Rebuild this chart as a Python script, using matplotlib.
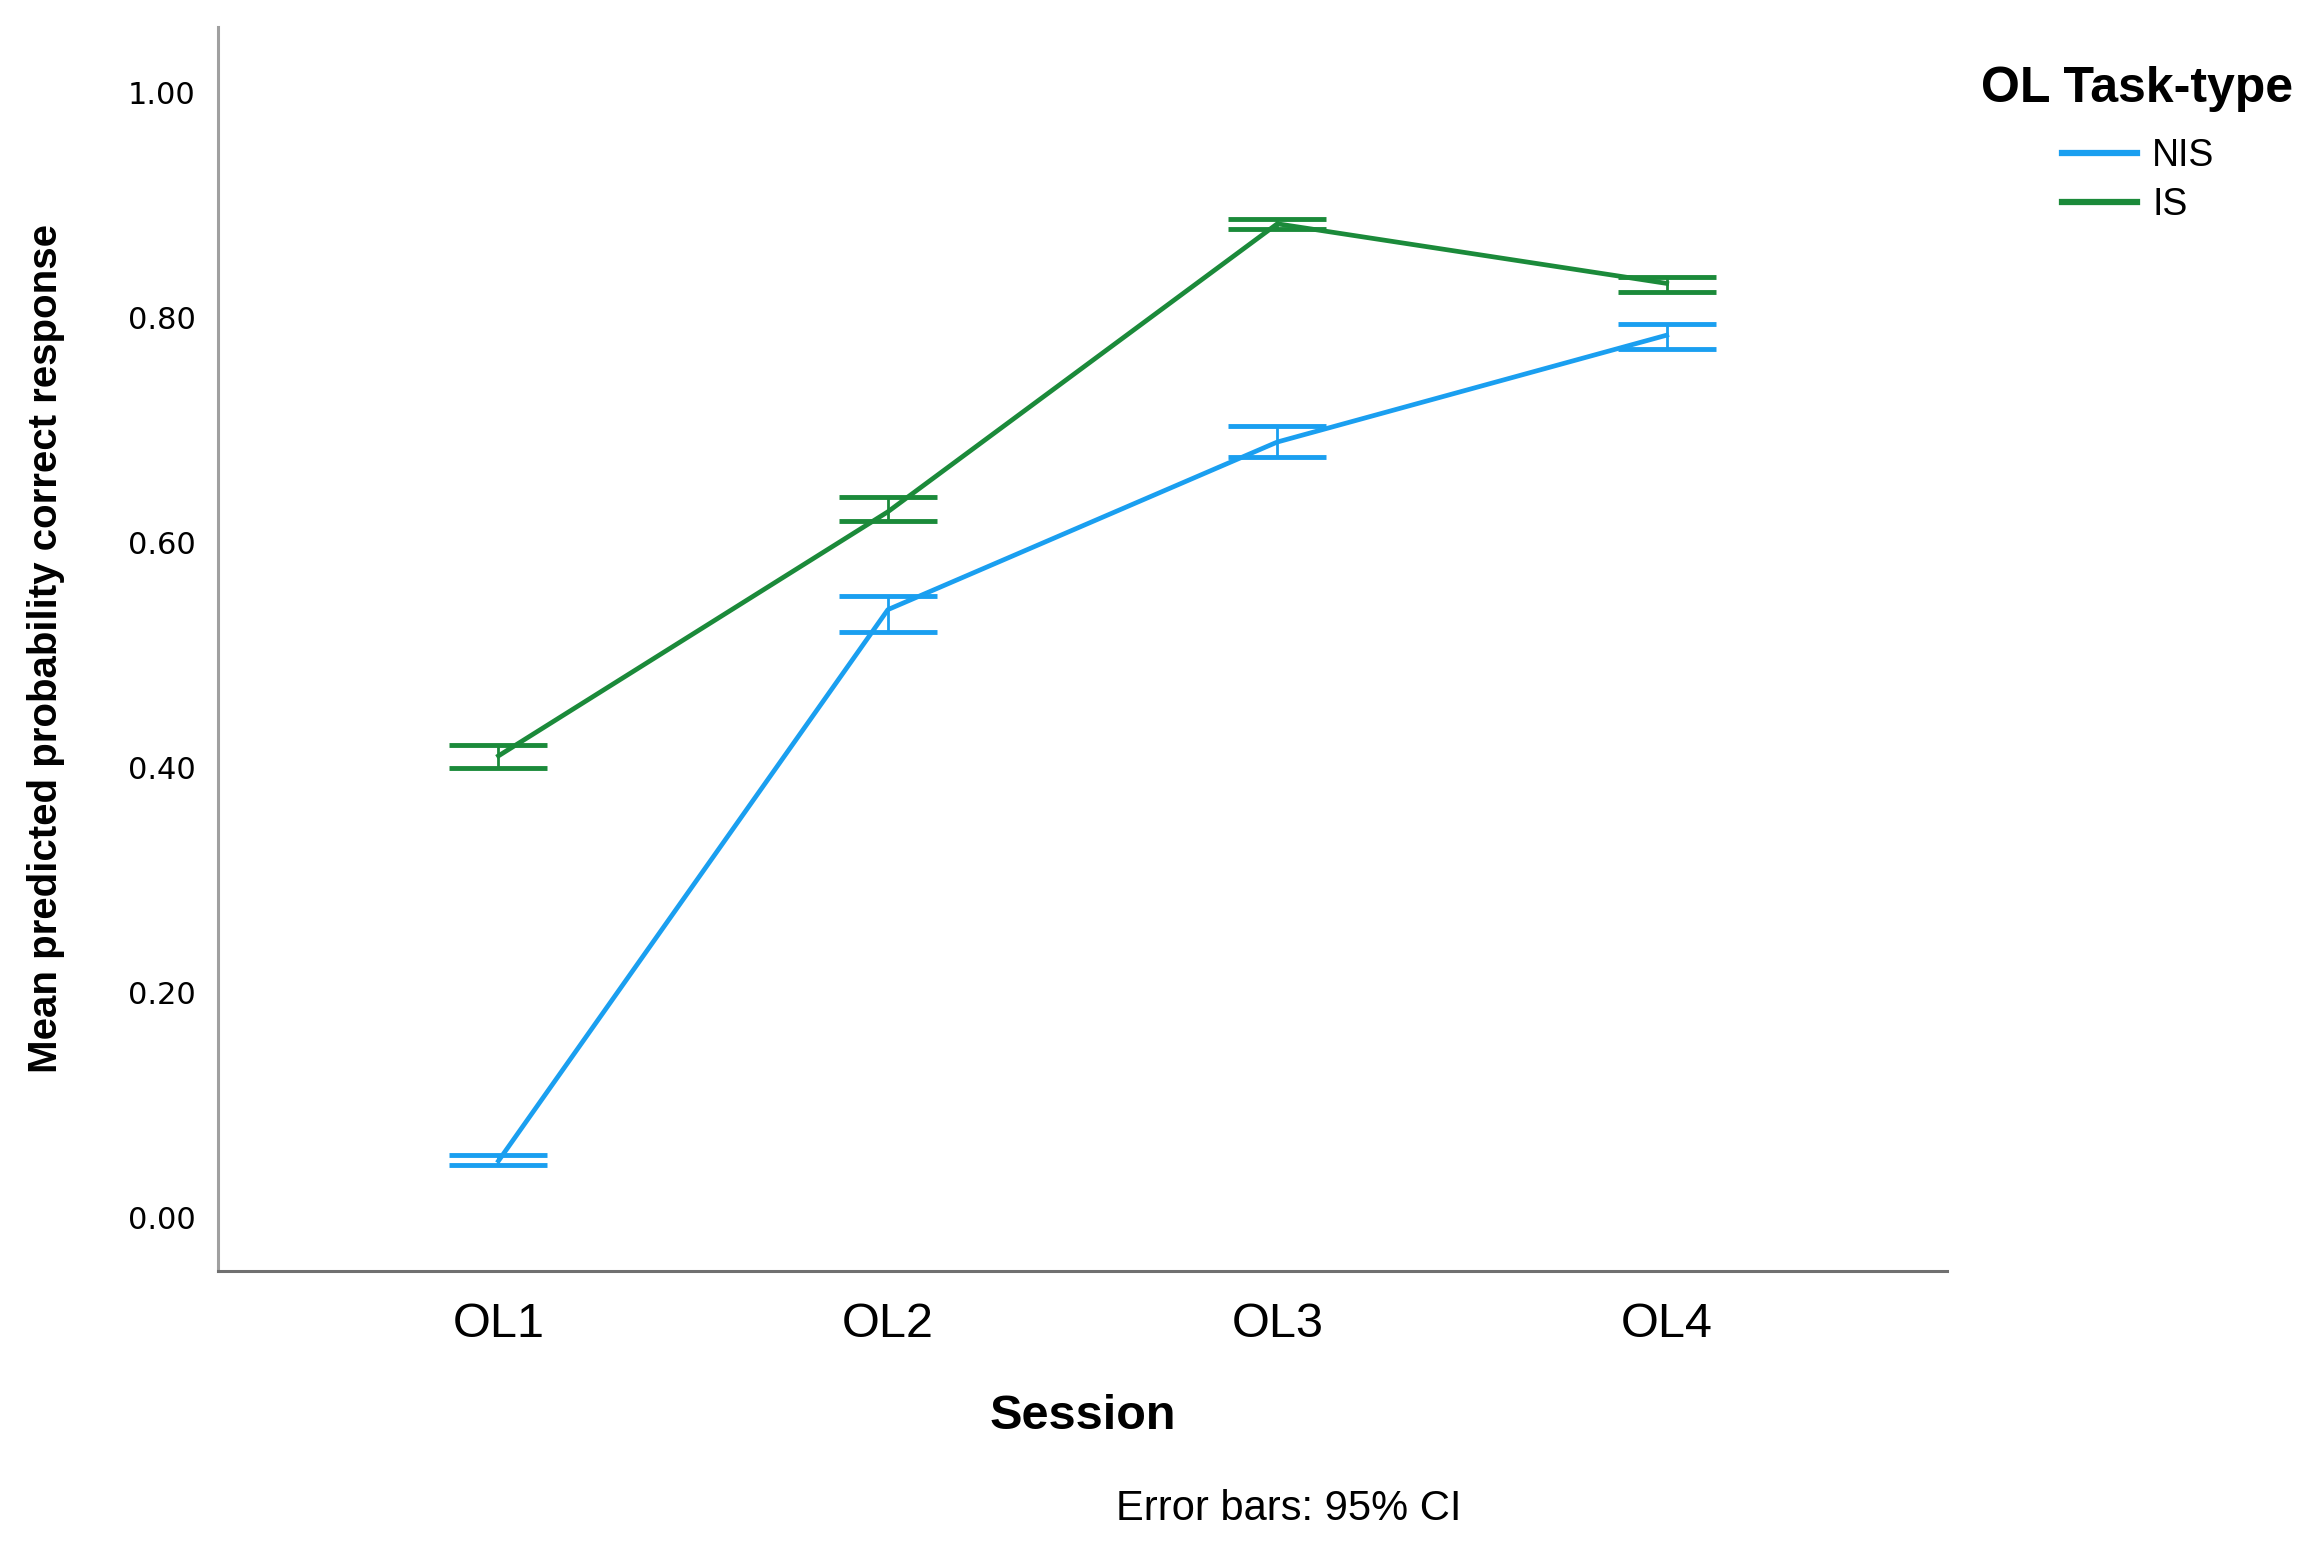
import numpy as np
import matplotlib
matplotlib.use("Agg")
import matplotlib.pyplot as plt

# data
sessions = ["OL1", "OL2", "OL3", "OL4"]
nis_mean = [0.050, 0.540, 0.689, 0.784]
nis_lo = [0.046, 0.520, 0.676, 0.772]
nis_hi = [0.055, 0.552, 0.703, 0.794]
is_mean = [0.410, 0.627, 0.883, 0.830]
is_lo = [0.399, 0.619, 0.878, 0.822]
is_hi = [0.420, 0.640, 0.887, 0.836]

blue = "#1a9ff0"
green = "#1b8a3a"

plt.rcParams['font.family'] = ['Liberation Sans', 'DejaVu Sans']

fig = plt.figure(figsize=(23.13, 15.48), dpi=100)
ax = fig.add_axes([0.0943, 0.1789, 0.7475, 0.8037])

x = np.arange(len(sessions))

for mean, lo, hi, col, lab in [(nis_mean, nis_lo, nis_hi, blue, "NIS"),
                               (is_mean, is_lo, is_hi, green, "IS")]:
    mean = np.array(mean)
    err = [mean - np.array(lo), np.array(hi) - mean]
    ax.errorbar(x, mean, yerr=err, fmt='none', ecolor=col, elinewidth=2,
                capsize=35, capthick=3.5)
    ax.plot(x, mean, color=col, lw=3.4, label=lab)

ax.set_xlim(-0.72, 3.72)
ax.set_ylim(-0.048, 1.058)
ax.set_xticks(x)
ax.set_xticklabels(sessions, fontsize=35)
ax.set_yticks([0, 0.2, 0.4, 0.6, 0.8, 1.0])
ax.set_yticklabels([f"{v:.2f}" for v in [0, 0.2, 0.4, 0.6, 0.8, 1.0]],
                   fontsize=22, family='DejaVu Sans')
ax.tick_params(axis='x', length=0, pad=22)
ax.tick_params(axis='y', length=0, pad=16)

for s in ['top', 'right']:
    ax.spines[s].set_visible(False)
ax.spines['left'].set_color('#a0a0a0')
ax.spines['left'].set_linewidth(2.2)
ax.spines['bottom'].set_color('#707070')
ax.spines['bottom'].set_linewidth(2.2)

ax.set_ylabel("Mean predicted probability correct response", fontsize=29,
              fontweight='bold', va='center')
ax.yaxis.set_label_coords(-0.0995, 0.5)
ax.set_xlabel("Session", fontsize=35, fontweight='bold', va='center')
ax.xaxis.set_label_coords(0.5, -0.1166)

# legend: title as separate text so the gap can be set
fig.text(2137 / 2313, 1 - 89 / 1548, "OL Task-type", fontsize=36,
         fontweight='bold', ha='center', va='center')
leg = fig.legend(loc='upper left', bbox_to_anchor=(2062 / 2313, 1 - 138 / 1548),
                 frameon=False, fontsize=27, handlelength=2.0, handletextpad=0.4,
                 labelspacing=0.35, borderpad=0, borderaxespad=0)
for h in leg.get_lines():
    h.set_linewidth(4.5)

fig.text(1289 / 2313, 1 - 1509 / 1548, "Error bars: 95% CI", fontsize=30,
         ha='center', va='center')

fig.savefig("out.png", dpi=100)
